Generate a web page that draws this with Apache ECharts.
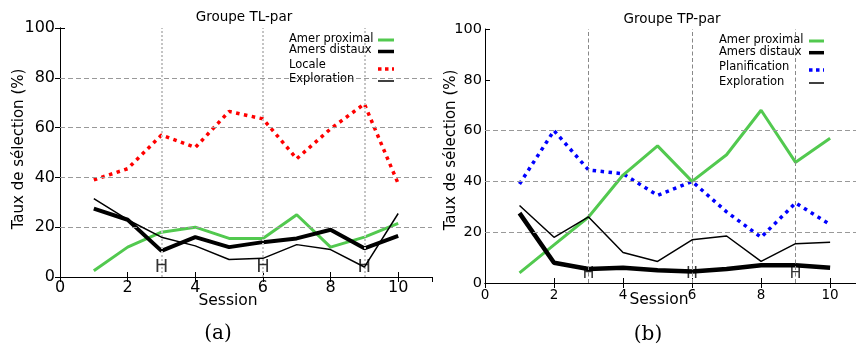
<!DOCTYPE html>
<html>
<head>
<meta charset="utf-8">
<script src="https://cdn.jsdelivr.net/npm/echarts@6.0.0/dist/echarts.min.js"></script>
<style>html,body{margin:0;padding:0;background:#fff}#c{width:856px;height:351px}</style>
</head>
<body>
<div id="c"></div>
<script>
const sessions = [1, 2, 3, 4, 5, 6, 7, 8, 9, 10];
const tlProximal = [2.5, 12, 18, 20, 15.5, 15.5, 25, 12, 16, 21.5];
const tlDistaux = [27.5, 23, 10.5, 16, 12, 14, 15.5, 19, 11.5, 16.5];
const tlLocale = [39, 43.5, 57, 52, 66.5, 63.5, 47.5, 59.5, 69.5, 37.5];
const tlExploration = [31.5, 23, 16, 12.5, 7, 7.5, 13, 11, 4, 25.5];
const tpProximal = [4, 15, 26, 42.5, 54, 40, 50.5, 68, 47.5, 57];
const tpDistaux = [27.5, 8, 5.5, 6, 5, 4.5, 5.5, 7, 7, 6];
const tpPlanification = [39, 60, 44.5, 43, 34.5, 40, 28, 18, 31.5, 23];
const tpExploration = [30.5, 18, 26, 12, 8.5, 17, 18.5, 8.5, 15.5, 16];
const hSessions = [3, 6, 9];
const xTicks = [0, 2, 4, 6, 8, 10];
const yTicks = [0, 20, 40, 60, 80, 100];
const tlGridY = [20, 40, 60, 80];
const tpGridY = [20, 40, 60];
const tlLegend = ['Amer proximal', 'Amers distaux', 'Locale', 'Exploration'];
const tpLegend = ['Amer proximal', 'Amers distaux', 'Planification', 'Exploration'];

const FF = 'DejaVu Sans';
const GREEN = '#52c94f';
const pair = arr => arr.map((v, i) => [sessions[i], v]);

function xAxes(g, xmax, fs, margin) {
  return [
    {gridIndex: g, type: 'value', min: 0, max: xmax, interval: 2, position: 'bottom',
     axisLine: {lineStyle: {color: '#000', width: 1}},
     axisTick: {inside: true, length: 5, lineStyle: {color: '#000'}},
     axisLabel: {fontSize: fs, color: '#000', margin: margin, fontFamily: FF, showMaxLabel: false,
       formatter: v => xTicks.includes(v) ? String(v) : ''},
     splitLine: {show: false}},
    {gridIndex: g, type: 'value', min: 0, max: xmax, interval: 2, position: 'top',
     axisLine: {lineStyle: {color: '#000', width: 1}},
     axisTick: {inside: true, length: 5, lineStyle: {color: '#000'}},
     axisLabel: {show: false}, splitLine: {show: false}}
  ];
}
function yAxes(g, fs, margin, showRight) {
  return [
    {gridIndex: g, type: 'value', min: 0, max: 100, interval: 20, position: 'left',
     axisLine: {lineStyle: {color: '#000', width: 1}},
     axisTick: {inside: true, length: 5, lineStyle: {color: '#000'}},
     axisLabel: {fontSize: fs, color: '#000', margin: margin, fontFamily: FF,
       formatter: v => yTicks.includes(v) ? String(v) : ''},
     splitLine: {show: false}},
    {gridIndex: g, type: 'value', min: 0, max: 100, interval: 20, position: 'right', show: showRight,
     axisLine: {lineStyle: {color: '#000', width: 1}},
     axisTick: {inside: true, length: 5, lineStyle: {color: '#000'}},
     axisLabel: {show: false}, splitLine: {show: false}}
  ];
}

function gridMarks(hLines, vStyle) {
  return {
    silent: true, symbol: ['none', 'none'], animation: false, label: {show: false},
    lineStyle: {color: '#999', type: [5, 3], width: 1.2},
    data: hLines.map(v => ({yAxis: v})).concat(hSessions.map(s => ({xAxis: s, lineStyle: vStyle})))
  };
}

function lineSeries(name, data, xi, yi, style, z) {
  return {name, type: 'line', xAxisIndex: xi, yAxisIndex: yi, data: pair(data),
    symbol: 'none', lineStyle: style, z: z, animation: false};
}

function hSeries(xi, yv, fs) {
  return {type: 'scatter', xAxisIndex: xi, yAxisIndex: xi, data: hSessions.map(s => [s, yv]),
    symbolSize: 0, z: 6, itemStyle: {color: '#000'}, silent: true,
    label: {show: true, position: 'inside', formatter: 'H', fontSize: fs, color: '#000',
      fontFamily: FF, textBorderWidth: 0, textBorderColor: 'transparent'}};
}

const series = [
  Object.assign(lineSeries('Locale', tlLocale, 0, 0, {color: '#ff0000', width: 3.5, type: [3.5, 4.5]}, 3),
    {markLine: gridMarks(tlGridY, {color: '#c4c4c4', type: [2, 2], width: 2})}),
  lineSeries('Amer proximal', tlProximal, 0, 0, {color: GREEN, width: 3}, 3),
  lineSeries('Amers distaux', tlDistaux, 0, 0, {color: '#000', width: 4}, 4),
  lineSeries('Exploration', tlExploration, 0, 0, {color: '#000', width: 1.5}, 5),
  hSeries(0, 4, 18),

  Object.assign(lineSeries('Planification', tpPlanification, 2, 2, {color: '#0000ff', width: 3.5, type: [3.5, 4.5]}, 3),
    {markLine: gridMarks(tpGridY, {color: '#888', type: [4, 2.5], width: 1})}),
  lineSeries('Amer proximal', tpProximal, 2, 2, {color: GREEN, width: 3}, 4),
  lineSeries('Amers distaux', tpDistaux, 2, 2, {color: '#000', width: 4.5}, 4),
  lineSeries('Exploration', tpExploration, 2, 2, {color: '#000', width: 1.5}, 5),
  hSeries(2, 3.7, 16)
];

function legendGraphics(names, tx, ys, lx0, lx1, lineYs, styles) {
  const out = [];
  names.forEach((n, i) => {
    out.push({type: 'text', left: tx, top: ys[i] - 7, style: {text: n, font: '11.5px "DejaVu Sans"', fill: '#000'}, z: 10});
    out.push({type: 'line', shape: {x1: lx0, y1: lineYs[i], x2: lx1, y2: lineYs[i]}, style: styles[i], z: 10});
  });
  return out;
}

const graphics = [].concat(
  legendGraphics(tlLegend, 289, [40, 51.5, 66, 80], 378, 394, [40, 51.5, 69, 81], [
    {stroke: GREEN, lineWidth: 3},
    {stroke: '#000', lineWidth: 3.5},
    {stroke: '#ff0000', lineWidth: 3.5, lineDash: [3.5, 3.5]},
    {stroke: '#000', lineWidth: 1.5}
  ]),
  legendGraphics(tpLegend, 719, [41, 52.7, 67.7, 82.7], 809, 824, [41, 52.7, 70, 83], [
    {stroke: GREEN, lineWidth: 3},
    {stroke: '#000', lineWidth: 3.5},
    {stroke: '#0000ff', lineWidth: 3.5, lineDash: [3.5, 3.5]},
    {stroke: '#000', lineWidth: 1.5}
  ]),
  [
    {type: 'text', x: 244, y: 17, style: {text: 'Groupe TL-par', font: '13.5px "DejaVu Sans"', fill: '#000', align: 'center', verticalAlign: 'middle'}},
    {type: 'text', x: 672, y: 19, style: {text: 'Groupe TP-par', font: '13.5px "DejaVu Sans"', fill: '#000', align: 'center', verticalAlign: 'middle'}},
    {type: 'text', x: 19, y: 149, rotation: Math.PI / 2, style: {text: 'Taux de sélection (%)', font: '15px "DejaVu Sans"', fill: '#000', align: 'center', verticalAlign: 'middle'}},
    {type: 'text', x: 451, y: 150, rotation: Math.PI / 2, style: {text: 'Taux de sélection (%)', font: '15px "DejaVu Sans"', fill: '#000', align: 'center', verticalAlign: 'middle'}},
    {type: 'text', x: 228, y: 301, style: {text: 'Session', font: '15.5px "DejaVu Sans"', fill: '#000', align: 'center', verticalAlign: 'middle'}},
    {type: 'text', x: 659, y: 300, style: {text: 'Session', font: '15.5px "DejaVu Sans"', fill: '#000', align: 'center', verticalAlign: 'middle'}},
    {type: 'text', x: 218, y: 334, style: {text: '(a)', font: '20px "DejaVu Serif"', fill: '#000', align: 'center', verticalAlign: 'middle'}},
    {type: 'text', x: 648, y: 335, style: {text: '(b)', font: '20px "DejaVu Serif"', fill: '#000', align: 'center', verticalAlign: 'middle'}}
  ]
);

const chart = echarts.init(document.getElementById('c'), null, {renderer: 'canvas'});
chart.setOption({
  animation: false,
  backgroundColor: '#fff',
  grid: [
    {left: 60, top: 28, width: 372, height: 249, show: false},
    {left: 485, top: 29, width: 371, height: 254, show: false}
  ],
  xAxis: xAxes(0, 11, 16, 3).concat(xAxes(1, 10.75, 13.5, 5)),
  yAxis: yAxes(0, 16, 5, true).concat(yAxes(1, 14.5, 3, false)),
  series: series,
  graphic: graphics
});
</script>
</body>
</html>
